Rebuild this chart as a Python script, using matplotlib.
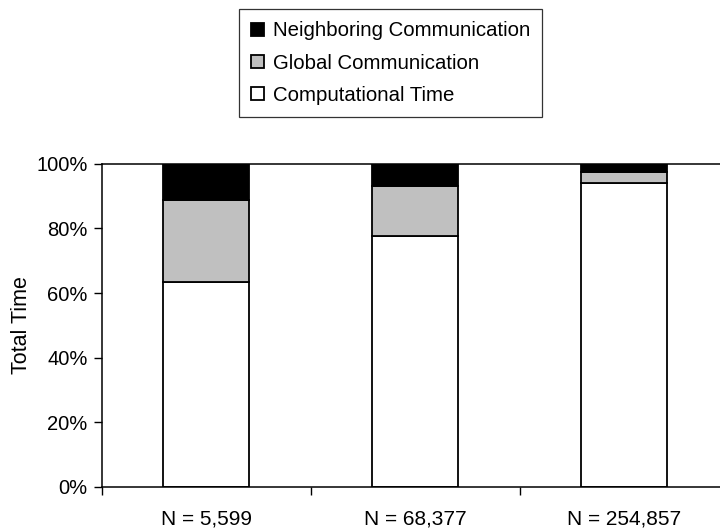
import numpy as np
import matplotlib.pyplot as plt
from matplotlib.ticker import FixedLocator, PercentFormatter

plt.rcParams['font.family'] = ['Liberation Sans', 'DejaVu Sans']

# Dados (percentual do tempo total)
categorias = ['N = 5,599', 'N = 68,377', 'N = 254,857']
computacional = [63.4, 77.8, 93.9]
global_com = [25.3, 15.3, 3.5]
vizinhos = [11.3, 6.9, 2.6]

x = np.arange(len(categorias))
largura = 0.415

fig = plt.figure(figsize=(7.2, 5.29), dpi=100)
ax = fig.add_axes([0.141, 0.0794, 0.871, 0.611])

comp = np.array(computacional)
glob = np.array(global_com)
viz = np.array(vizinhos)

b1 = ax.bar(x, comp, largura, color='white', edgecolor='black', linewidth=1.3,
            label='Computational Time')
b2 = ax.bar(x, glob, largura, bottom=comp, color='#c0c0c0', edgecolor='black',
            linewidth=1.3, label='Global Communication')
b3 = ax.bar(x, viz, largura, bottom=comp + glob, color='black', edgecolor='black',
            linewidth=1.3, label='Neighboring Communication')

ax.set_xlim(-0.5, len(categorias) - 0.5)
ax.set_ylim(0, 100)
ax.yaxis.set_major_locator(FixedLocator([0, 20, 40, 60, 80, 100]))
ax.yaxis.set_major_formatter(PercentFormatter(decimals=0))
ax.tick_params(axis='y', labelsize=14.5, length=6, width=1, direction='out', pad=4)

ax.set_xticks(x)
ax.set_xticklabels(categorias)
ax.set_xticks(np.arange(len(categorias) + 1) - 0.5, minor=True)
ax.tick_params(axis='x', which='major', length=0, labelsize=15, pad=16)
ax.tick_params(axis='x', which='minor', length=6, width=1, direction='out')

ax.set_ylabel('Total Time', fontsize=15.5, va='center')
ax.yaxis.set_label_coords(-0.128, 0.5)

ax.spines['right'].set_visible(False)
for s in ['top', 'left', 'bottom']:
    ax.spines[s].set_linewidth(1.1)

fig.legend(handles=[b3, b2, b1],
           loc='upper left', bbox_to_anchor=(239 / 720, 1 - 9 / 529),
           fontsize=14.7, frameon=True, fancybox=False, edgecolor='black',
           handlelength=0.6, handleheight=0.6, handletextpad=0.45,
           labelspacing=0.65, borderpad=0.6, borderaxespad=0)
fig.legends[0].get_frame().set_linewidth(0.9)

plt.savefig('out.png', dpi=100)
